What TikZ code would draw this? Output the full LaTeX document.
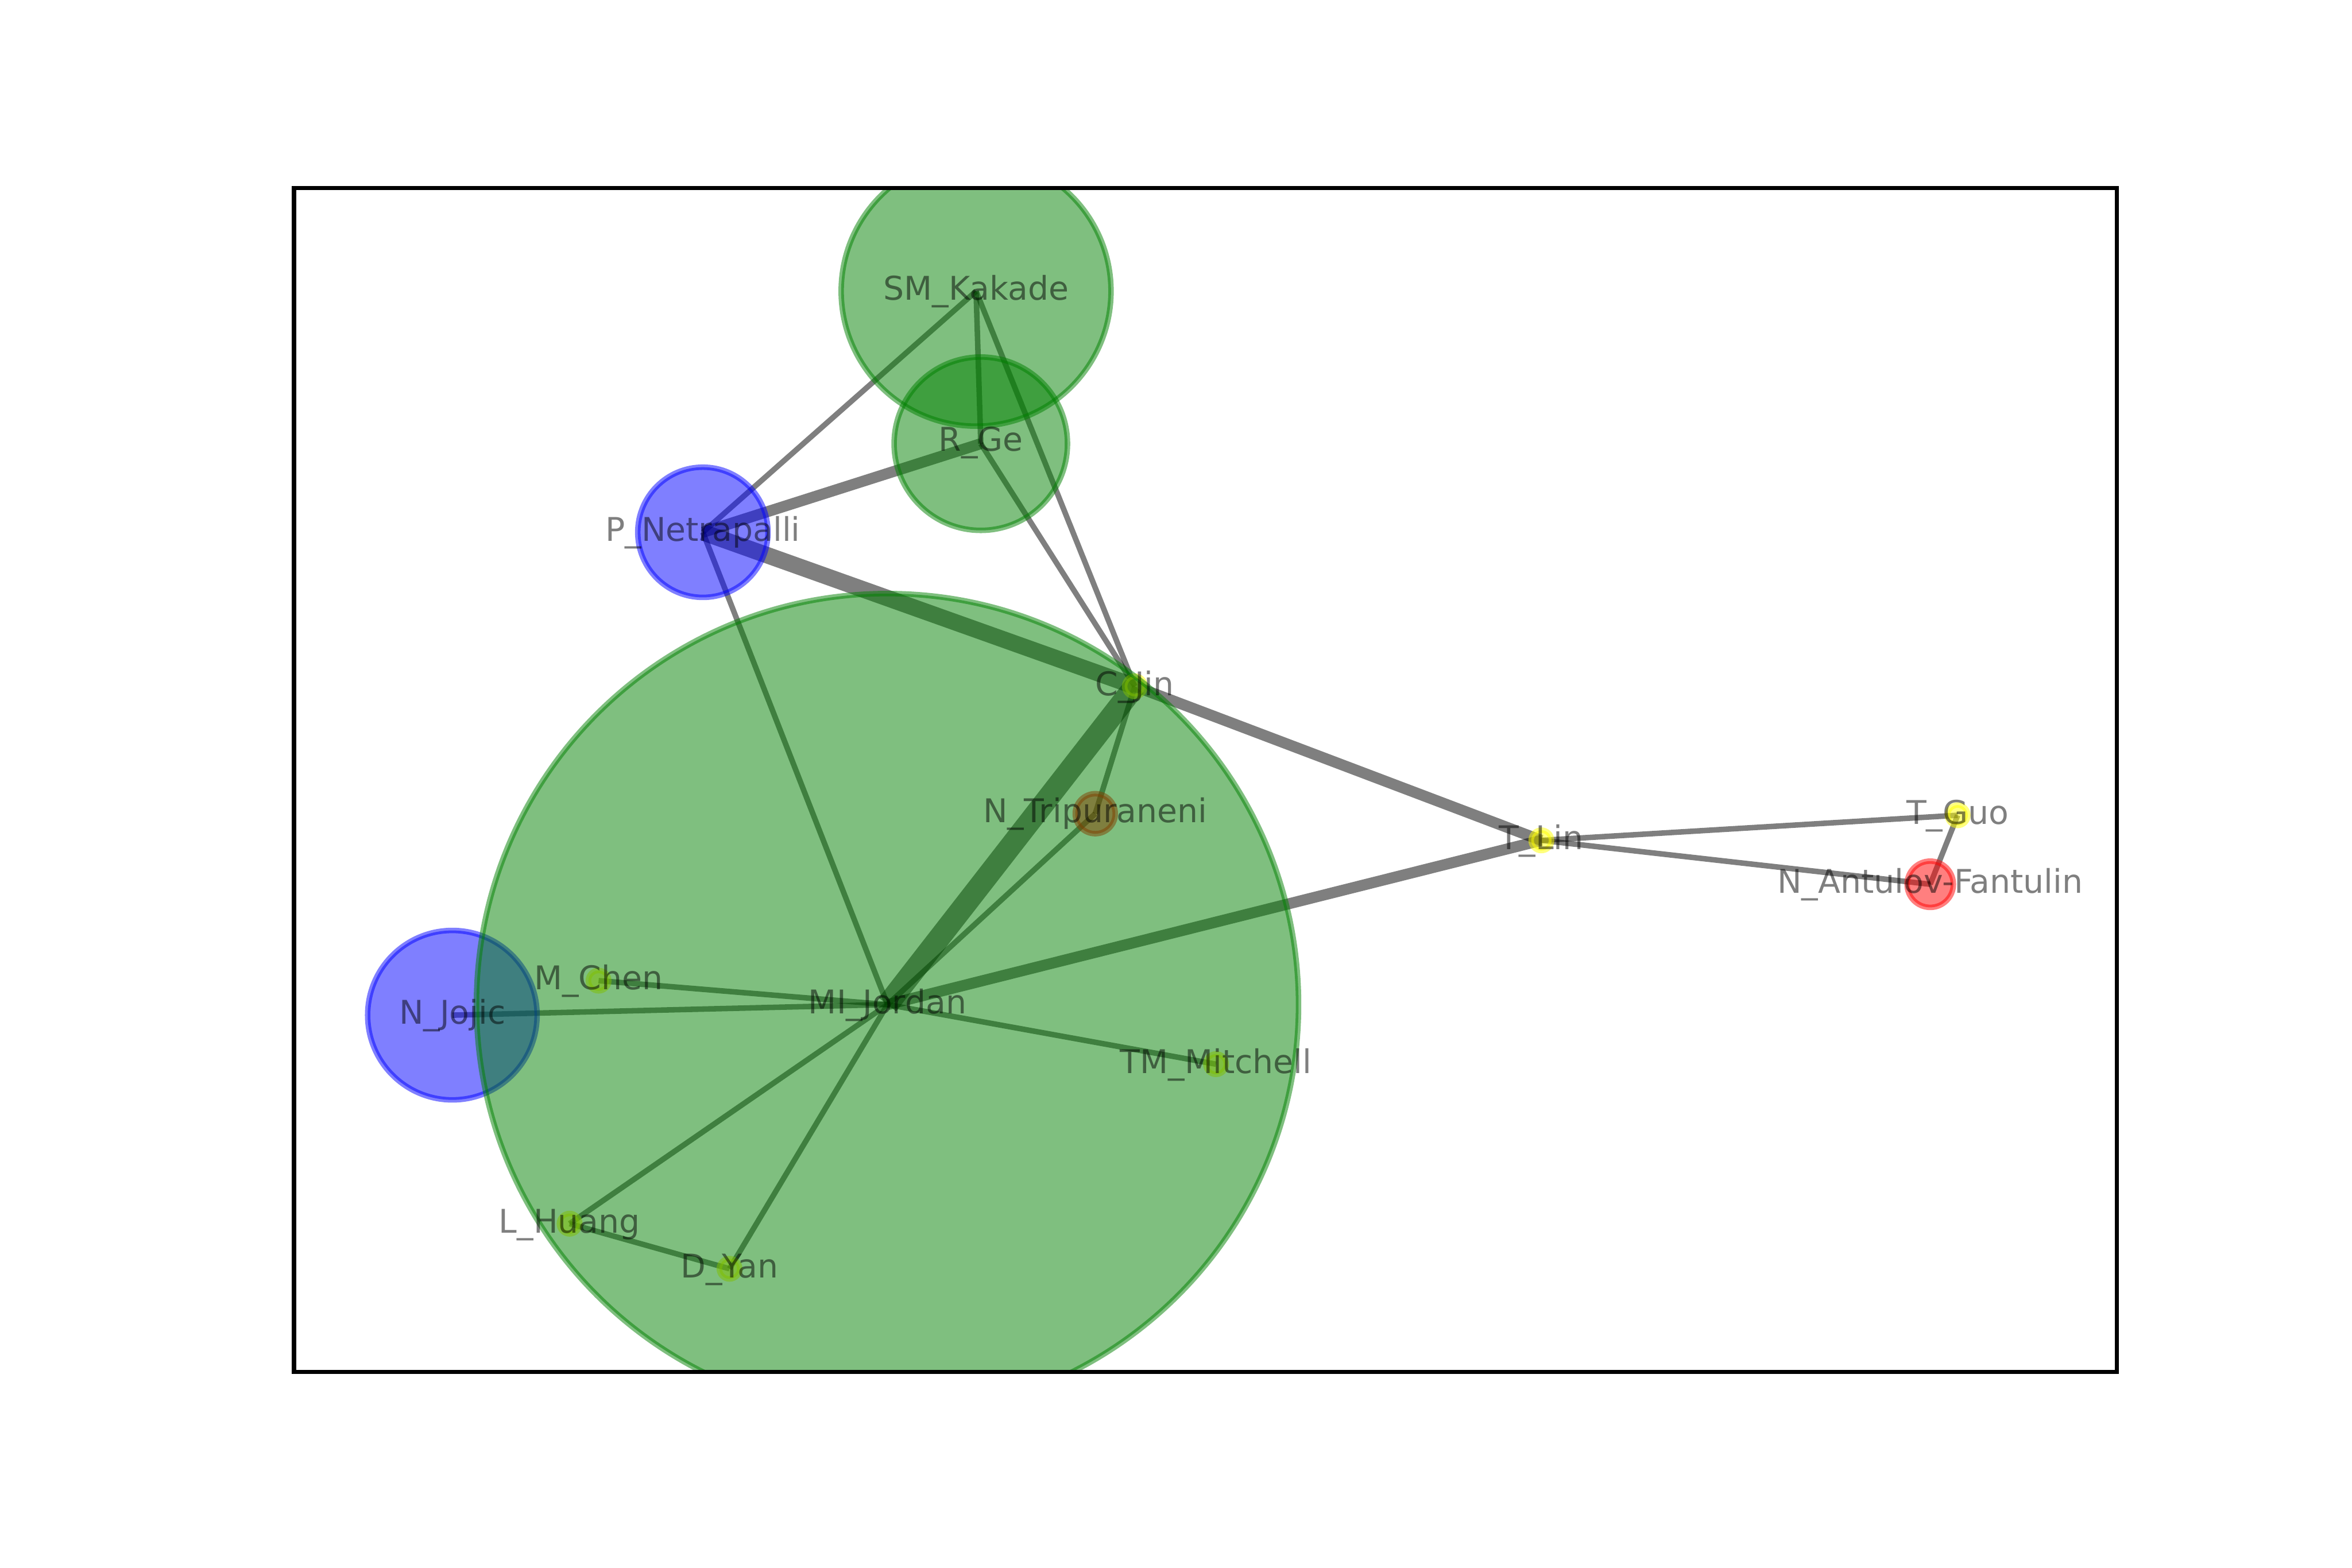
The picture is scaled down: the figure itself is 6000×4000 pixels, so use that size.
\documentclass[tikz,border=0pt]{standalone}
\usepackage{fontspec}
\setmainfont{DejaVu Sans}
\definecolor{mgreen}{RGB}{0,128,0}
\definecolor{mblue}{RGB}{0,0,255}
\definecolor{mred}{RGB}{255,0,0}
\definecolor{myellow}{RGB}{255,255,0}
\begin{document}
\begin{tikzpicture}[x=0.01cm,y=-0.01cm,
  edge/.style={line width=0.14cm, draw=black, draw opacity=0.5},
  wtwo/.style={line width=0.28cm},
  wthree/.style={line width=0.42cm},
  wfour/.style={line width=0.56cm},
  vert/.style={circle, inner sep=0pt, outer sep=0pt, line width=0.14cm,
    fill opacity=0.5, draw opacity=0.5},
  gvert/.style={vert, fill=mgreen, draw=mgreen},
  bvert/.style={vert, fill=mblue, draw=mblue},
  rvert/.style={vert, fill=mred, draw=mred},
  yvert/.style={vert, fill=myellow, draw=myellow, minimum size=0.52cm},
  lab/.style={inner sep=0pt, outer sep=0pt, text height=0.633cm, text depth=0.173cm,
    text=black, text opacity=0.5, font=\fontsize{23.7}{28}\selectfont}]
\useasboundingbox (0,0) rectangle (6000,4000);
\fill[white] (0,0) rectangle (6000,4000);
% positions
\coordinate (smk) at (2490,743);
\coordinate (rge) at (2502,1132);
\coordinate (pn) at (1793,1358);
\coordinate (cj) at (2895,1751);
\coordinate (nt) at (2794,2076);
\coordinate (tl) at (3932,2144);
\coordinate (tg) at (4994,2080);
\coordinate (naf) at (4924,2256);
\coordinate (mij) at (2264,2563);
\coordinate (nj) at (1154,2590);
\coordinate (mc) at (1527,2502);
\coordinate (tm) at (3102,2715);
\coordinate (lh) at (1453,3122);
\coordinate (dy) at (1861,3237);
% edges
\draw[edge] (smk) -- (pn);
\draw[edge] (smk) -- (rge);
\draw[edge] (smk) -- (cj);
\draw[edge,wtwo] (rge) -- (pn);
\draw[edge] (rge) -- (cj);
\draw[edge,wthree] (pn) -- (cj);
\draw[edge] (pn) -- (mij);
\draw[edge,wtwo] (cj) -- (tl);
\draw[edge,wfour] (cj) -- (mij);
\draw[edge] (cj) -- (nt);
\draw[edge] (nt) -- (mij);
\draw[edge,wtwo] (mij) -- (tl);
\draw[edge] (tl) -- (tg);
\draw[edge] (tl) -- (naf);
\draw[edge] (tg) -- (naf);
\draw[edge] (mij) -- (mc);
\draw[edge] (mij) -- (nj);
\draw[edge] (mij) -- (tm);
\draw[edge] (mij) -- (lh);
\draw[edge] (mij) -- (dy);
\draw[edge] (lh) -- (dy);
% node discs
\begin{scope}
\clip (750,480) rectangle (5400,3500);
\node[gvert, minimum size=6.88cm] (smk-d) at (smk) {};
\node[gvert, minimum size=4.42cm] (rge-d) at (rge) {};
\node[bvert, minimum size=3.32cm] (pn-d) at (pn) {};
\node[yvert] (cj-d) at (cj) {};
\node[rvert, minimum size=1.02cm] (nt-d) at (nt) {};
\node[yvert] (tl-d) at (tl) {};
\node[yvert] (tg-d) at (tg) {};
\node[rvert, minimum size=1.18cm] (naf-d) at (naf) {};
\node[bvert, minimum size=4.32cm] (nj-d) at (nj) {};
\node[yvert] (mc-d) at (mc) {};
\node[yvert] (tm-d) at (tm) {};
\node[yvert] (lh-d) at (lh) {};
\node[yvert] (dy-d) at (dy) {};
\node[gvert, minimum size=20.96cm] (mij-d) at (mij) {};
\end{scope}
% labels
\node[lab] (smk-l) at (smk) {SM\_Kakade};
\node[lab] (rge-l) at (2502,1127) {R\_Ge};
\node[lab] (pn-l) at (pn) {P\_Netrapalli};
\node[lab] (cj-l) at (cj) {C\_Jin};
\node[lab] (nt-l) at (nt) {N\_Tripuraneni};
\node[lab] (tl-l) at (tl) {T\_Lin};
\node[lab] (tg-l) at (tg) {T\_Guo};
\node[lab] (naf-l) at (naf) {N\_Antulov-Fantulin};
\node[lab] (mij-l) at (mij) {MI\_Jordan};
\node[lab] (nj-l) at (nj) {N\_Jojic};
\node[lab] (mc-l) at (mc) {M\_Chen};
\node[lab] (tm-l) at (tm) {TM\_Mitchell};
\node[lab] (lh-l) at (lh) {L\_Huang};
\node[lab] (dy-l) at (dy) {D\_Yan};
% axes frame
\draw[line width=0.11cm, black] (750,480) rectangle (5400,3500);
\end{tikzpicture}
\end{document}
